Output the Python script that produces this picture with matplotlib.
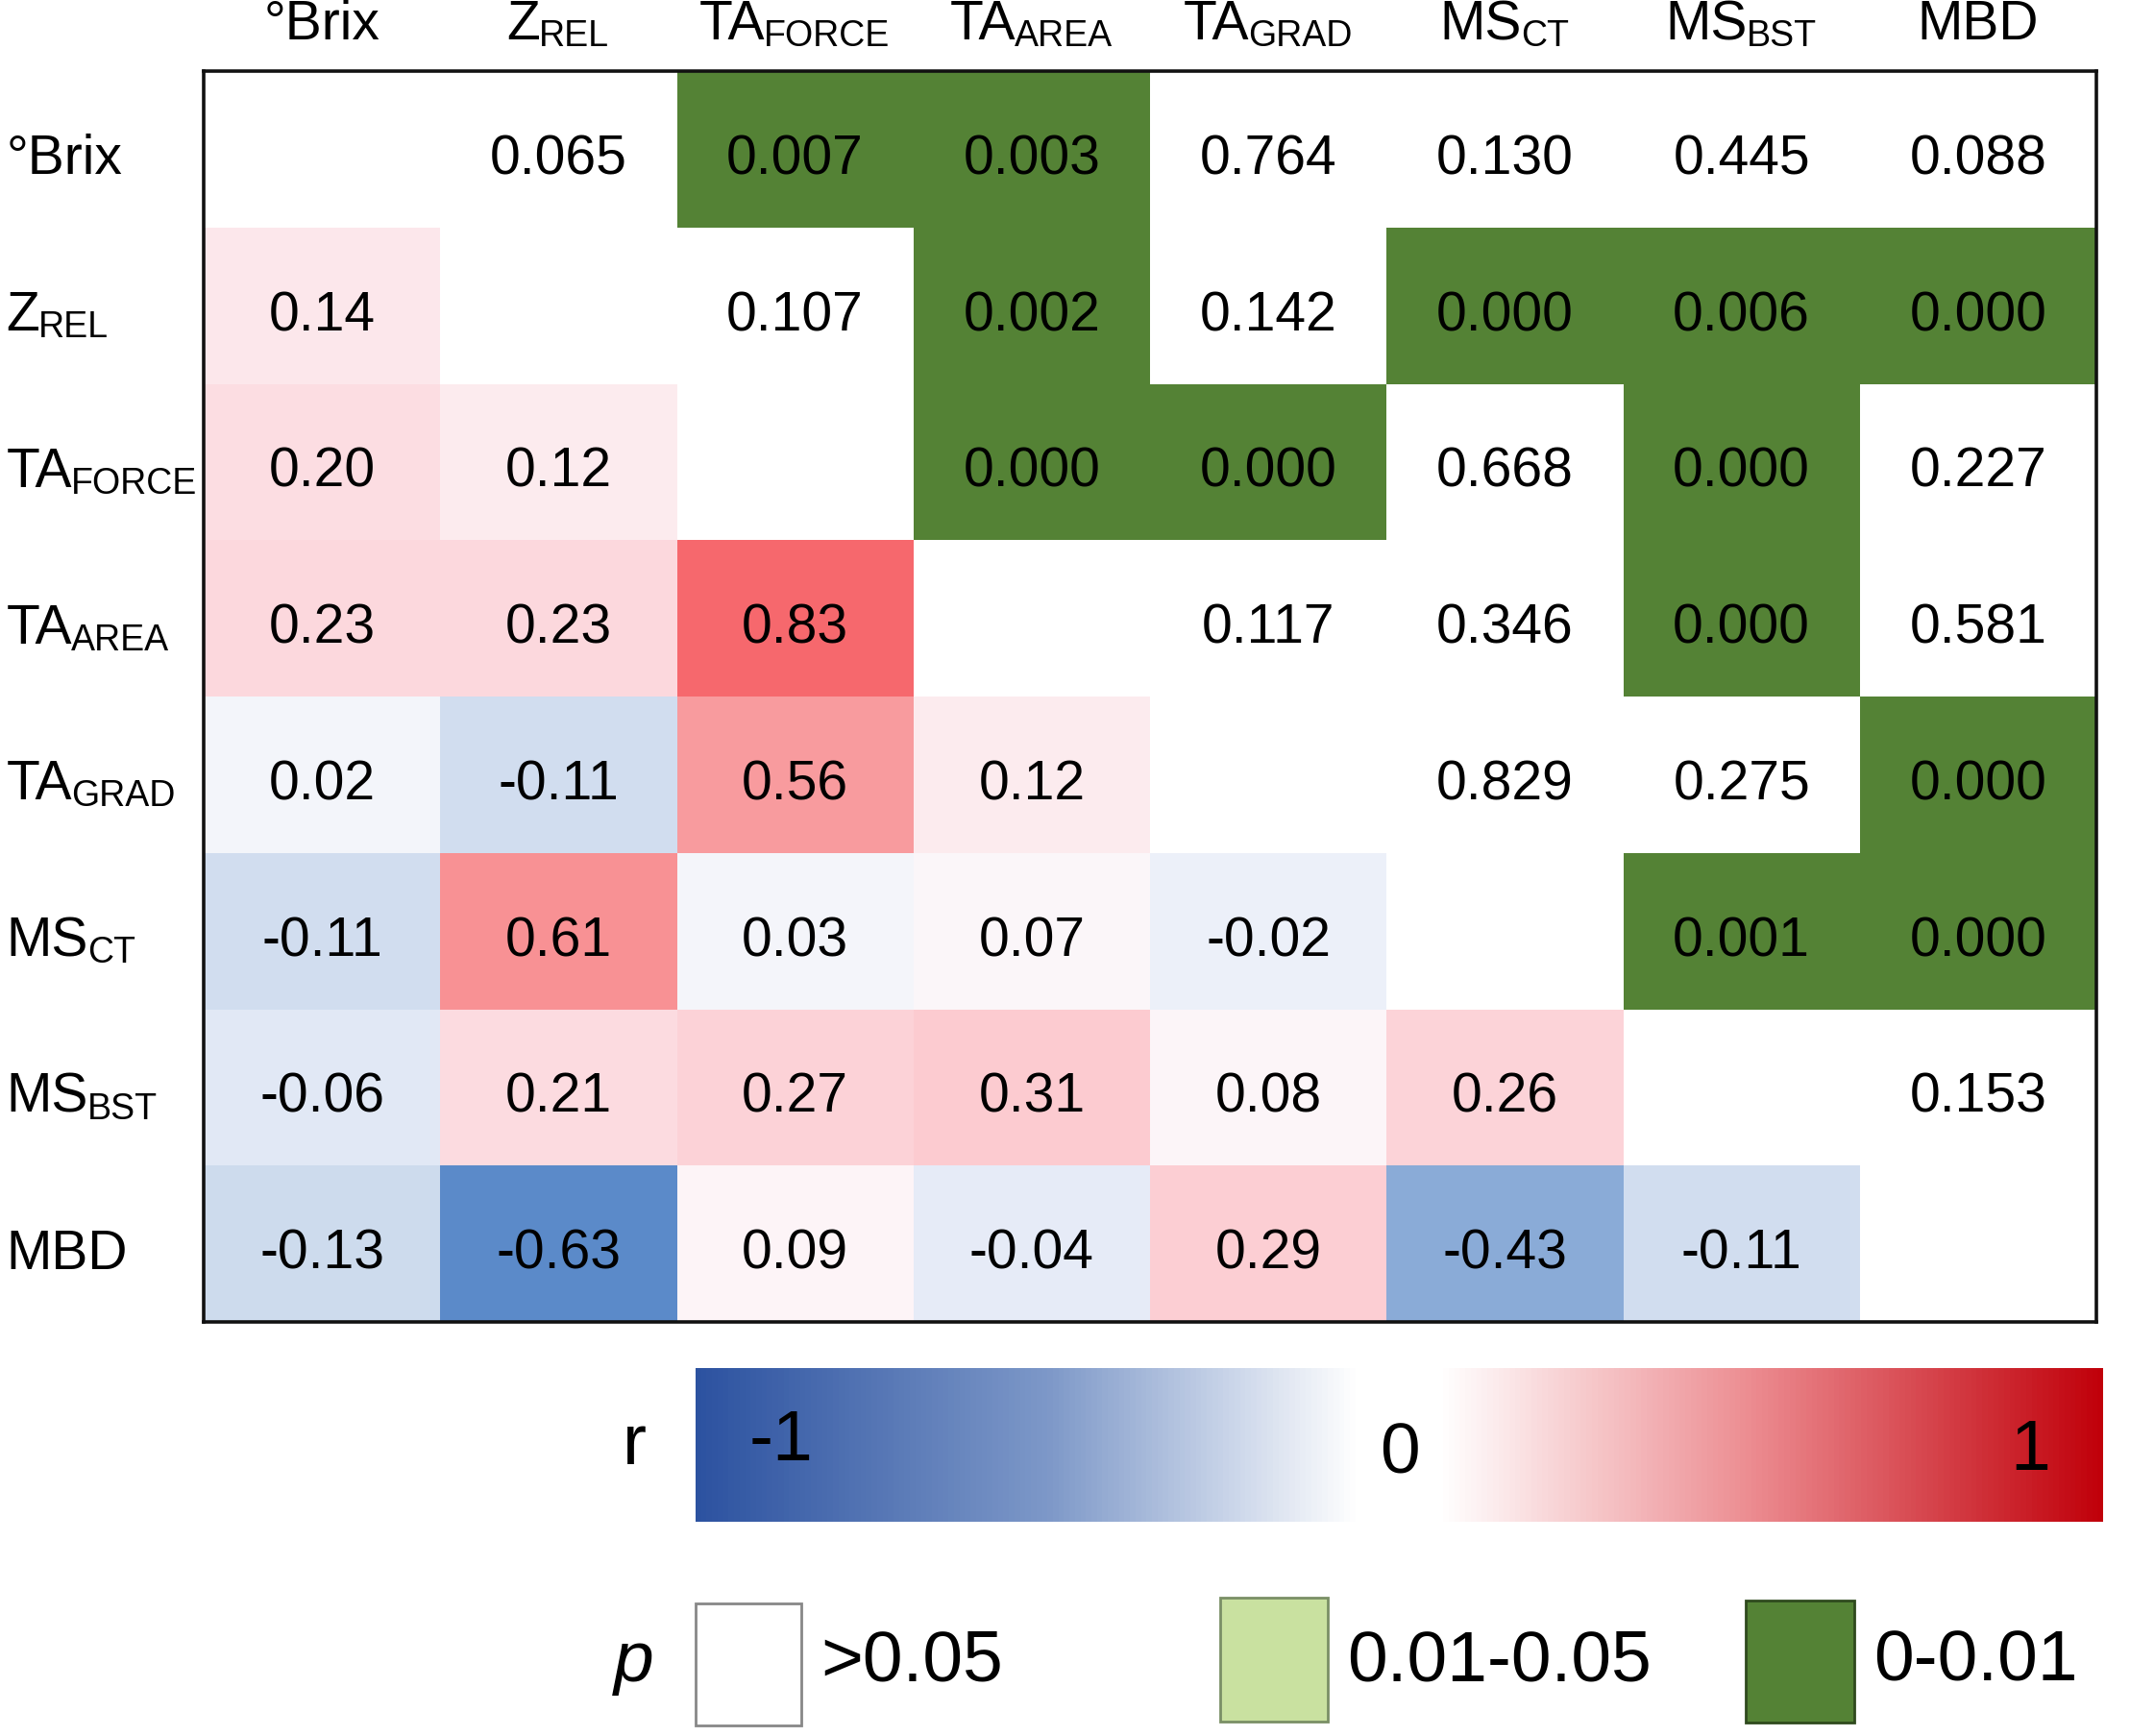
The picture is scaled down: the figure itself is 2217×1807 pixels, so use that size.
import numpy as np
import matplotlib
matplotlib.use("Agg")
import matplotlib.pyplot as plt
from matplotlib.colors import LinearSegmentedColormap, ListedColormap, BoundaryNorm, Normalize
from matplotlib.cm import ScalarMappable
from matplotlib.patches import Rectangle
from matplotlib.transforms import offset_copy
from matplotlib import font_manager

plt.rcParams['font.family'] = ['Liberation Sans', 'DejaVu Sans']

try:
    font_manager.findfont(font_manager.FontProperties(family="Liberation Sans Narrow"),
                          fallback_to_default=False)
    NARROW = "Liberation Sans Narrow"
    SFS = 31
except Exception:
    NARROW = "Liberation Sans"
    SFS = 27

# ---------------- data ----------------
var_main = ["°Brix", "Z", "TA", "TA", "TA", "MS", "MS", "MBD"]
var_sub = ["", "REL", "FORCE", "AREA", "GRAD", "CT", "BST", ""]

# correlation coefficients r (lower triangle, row by row)
r_lower = [
    [],
    [0.14],
    [0.20, 0.12],
    [0.23, 0.23, 0.83],
    [0.02, -0.11, 0.56, 0.12],
    [-0.11, 0.61, 0.03, 0.07, -0.02],
    [-0.06, 0.21, 0.27, 0.31, 0.08, 0.26],
    [-0.13, -0.63, 0.09, -0.04, 0.29, -0.43, -0.11],
]
# p values (upper triangle, row by row)
p_upper = [
    [0.065, 0.007, 0.003, 0.764, 0.130, 0.445, 0.088],
    [0.107, 0.002, 0.142, 0.000, 0.006, 0.000],
    [0.000, 0.000, 0.668, 0.000, 0.227],
    [0.117, 0.346, 0.000, 0.581],
    [0.829, 0.275, 0.000],
    [0.001, 0.000],
    [0.153],
    [],
]
p_classes = [">0.05", "0.01-0.05", "0-0.01"]
p_bounds = [0.0, 0.01, 0.05, 1.0]
cbar_labels = ["-1", "0", "1"]

n = len(var_main)
R = np.full((n, n), np.nan)
P = np.full((n, n), np.nan)
for i in range(n):
    for j, v in enumerate(r_lower[i]):
        R[i, j] = v
    for k, v in enumerate(p_upper[i]):
        P[i, i + 1 + k] = v

# ---------------- styles ----------------
cell_anchors = [(-1.0, (30, 80, 160)), (-0.63, (91, 138, 201)), (-0.43, (139, 172, 215)),
                (-0.12, (207, 220, 238)), (-0.06, (225, 232, 245)), (-0.02, (236, 240, 249)),
                (0.02, (243, 245, 250)), (0.06, (250, 246, 249)), (0.09, (253, 244, 247)),
                (0.13, (252, 232, 236)), (0.21, (252, 219, 224)), (0.30, (252, 205, 210)),
                (0.56, (248, 155, 158)), (0.83, (246, 105, 110)), (1.0, (240, 70, 75))]
cell_cmap = LinearSegmentedColormap.from_list(
    "cells", [((v + 1) / 2, tuple(c / 255 for c in col)) for v, col in cell_anchors])
bar_cmap = LinearSegmentedColormap.from_list(
    "bar", [(0.0, (44/255, 82/255, 160/255)), (0.25, (125/255, 152/255, 200/255)),
            (0.47, (1, 1, 1)), (0.53, (1, 1, 1)), (0.75, (236/255, 140/255, 145/255)),
            (1.0, (192/255, 0, 10/255))])
GREEN = "#548235"
LIGHT_GREEN = "#C9E1A0"
p_cmap = ListedColormap([GREEN, LIGHT_GREEN, "white"])
p_norm = BoundaryNorm(p_bounds, p_cmap.N)

W, H = 2217, 1807
fig = plt.figure(figsize=(W / 100, H / 100), dpi=100)
fig.patch.set_facecolor("white")

ax = fig.add_axes([212 / W, 1 - 1376 / H, (2182 - 212) / W, (1376 - 74) / H])
ax.pcolormesh(np.arange(n + 1), np.arange(n + 1), np.ma.masked_invalid(R),
              cmap=cell_cmap, norm=Normalize(-1, 1))
ax.pcolormesh(np.arange(n + 1), np.arange(n + 1), np.ma.masked_invalid(P),
              cmap=p_cmap, norm=p_norm)
ax.set_xlim(0, n)
ax.set_ylim(n, 0)
ax.set_xticks([])
ax.set_yticks([])
for s in ax.spines.values():
    s.set_linewidth(2.6)
    s.set_color("#111111")

FS = 41
off = 0.16
for i in range(n):
    for j in range(n):
        if not np.isnan(R[i, j]):
            ax.text(j + 0.5, i + 0.5 + off, f"{R[i, j]:.2f}", ha="center", va="baseline",
                    fontsize=FS, color="black")
        elif not np.isnan(P[i, j]):
            ax.text(j + 0.5, i + 0.5 + off, f"{P[i, j]:.3f}", ha="center", va="baseline",
                    fontsize=FS, color="black")

renderer = fig.canvas.get_renderer()


def label(x, y, main, sub, ha):
    t = ax.text(x, y, main, ha="left", va="baseline", fontsize=FS, clip_on=False)
    s = ax.text(x, y, sub, ha="left", va="baseline", fontsize=SFS, family=NARROW,
                clip_on=False) if sub else None
    wm = t.get_window_extent(renderer).width
    ws = s.get_window_extent(renderer).width if s is not None else 0
    dx0 = -(wm + ws) / 2 if ha == "center" else 0
    t.set_transform(offset_copy(ax.transData, fig=fig, x=dx0, y=0, units="dots"))
    if s is not None:
        s.set_transform(offset_copy(ax.transData, fig=fig, x=dx0 + wm - 1, y=-7, units="dots"))


for k in range(n):
    label(k + 0.5, -0.2, var_main[k], var_sub[k], "center")
    label(-0.835, k + 0.5 + off, var_main[k], var_sub[k], "left")

# ---------------- colour bar ----------------
cax = fig.add_axes([724 / W, 1 - 1584 / H, (2189 - 724) / W, (1584 - 1424) / H])
cb = fig.colorbar(ScalarMappable(norm=Normalize(-1, 1), cmap=bar_cmap), cax=cax,
                  orientation="horizontal")
cb.set_ticks([])
cb.outline.set_visible(False)
cax.text(0.061, 0.52, cbar_labels[0], transform=cax.transAxes, ha="center", va="center", fontsize=54)
cax.text(0.50, 0.44, cbar_labels[1], transform=cax.transAxes, ha="center", va="center", fontsize=54)
cax.text(0.948, 0.46, cbar_labels[2], transform=cax.transAxes, ha="center", va="center", fontsize=54)
cax.text(-0.035, 0.50, "r", transform=cax.transAxes, ha="right", va="center", fontsize=54)

# ---------------- p legend ----------------
lax = fig.add_axes([0, 0, 1, 1])
lax.set_xlim(0, W)
lax.set_ylim(H, 0)
lax.axis("off")
lax.text(660, 1750, "p", ha="center", va="baseline", fontsize=54, style="italic")
boxes = [(724, 1669, 110, 127, "white", "#888888"),
         (1270, 1663, 112, 129, LIGHT_GREEN, "#7a8f66"),
         (1817, 1666, 113, 127, GREEN, "#2f4a1e")]
for (x0, y0, w, h, fc, ec), lab in zip(boxes, p_classes):
    lax.add_patch(Rectangle((x0, y0), w, h, facecolor=fc, edgecolor=ec, linewidth=2))
    lax.text(x0 + w + 20, 1750, lab, ha="left", va="baseline", fontsize=54)

fig.savefig("out.png", dpi=100, facecolor="white")
